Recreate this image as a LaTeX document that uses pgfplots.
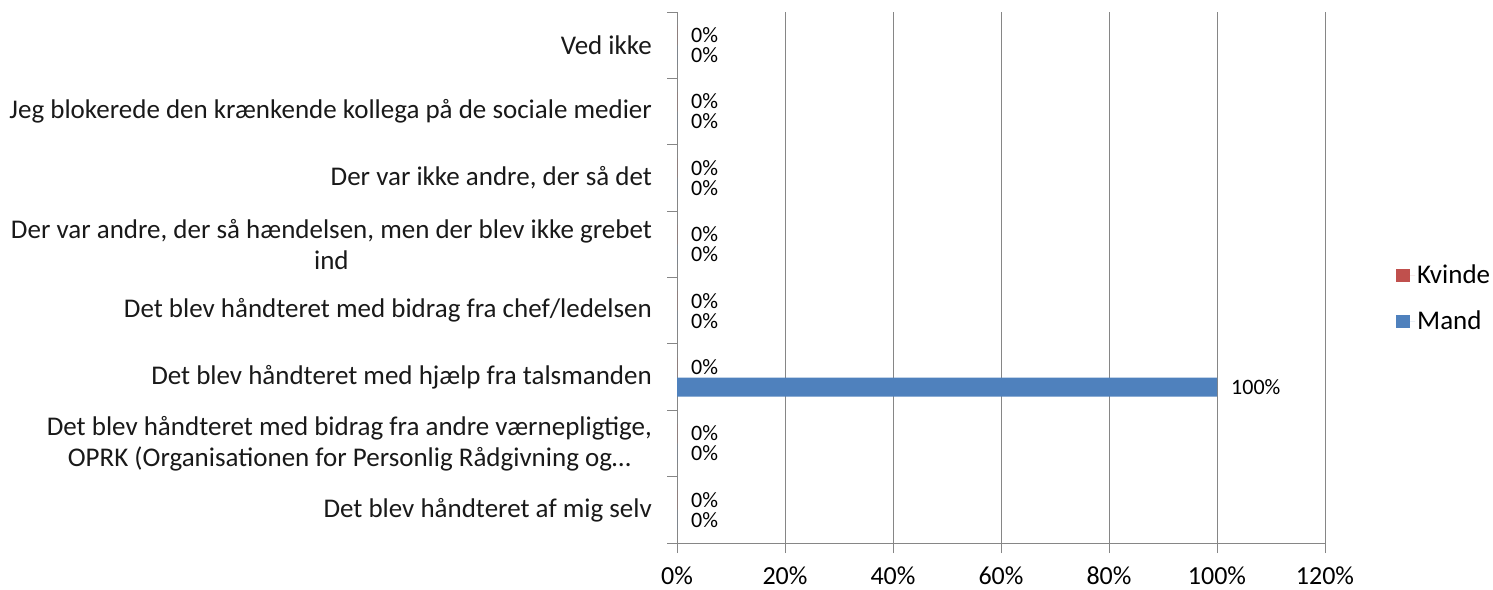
\documentclass[border=0pt]{standalone}
\usepackage{pgfplots}
\pgfplotsset{compat=1.18}
\usepackage{fontspec}
\setmainfont{Carlito}
\definecolor{kv}{RGB}{192,80,77}
\definecolor{md}{RGB}{79,129,189}
\definecolor{gridc}{RGB}{134,134,134}
\begin{document}
\begin{tikzpicture}
\path[use as bounding box] (0,0) rectangle (1493bp,590bp);
\begin{axis}[
 at={(677bp,47bp)}, anchor=south west,
 scale only axis, width=648bp, height=531bp,
 xmin=0, xmax=120, ymin=-0.5, ymax=7.5,
 xbar, bar width=19bp,
 axis x line*=bottom, axis y line*=left,
 axis line style={gridc, line width=0.9bp, -},
 tick align=outside, major tick length=10bp,
 every tick/.style={gridc, line width=0.9bp},
 xtick={0,20,...,120},
 xticklabel={\pgfmathprintnumber{\tick}\%},
 /pgf/number format/assume math mode=true,
 xticklabel style={font=\fontsize{26bp}{31bp}\selectfont, text=black, anchor=north, yshift=-10bp},
 xmajorgrids, major grid style={gridc, line width=0.9bp},
 ytick={-0.5,0.5,1.5,2.5,3.5,4.5,5.5,6.5,7.5},
 yticklabels={,,,,,,,,},
 extra y ticks={0,1,2,3,4,5,6,7},
 extra y tick labels={
  {Det blev håndteret af mig selv},
  {Det blev håndteret med bidrag fra andre værnepligtige,\\OPRK (Organisationen for Personlig Rådgivning og…},
  {Det blev håndteret med hjælp fra talsmanden},
  {Det blev håndteret med bidrag fra chef/ledelsen},
  {Der var andre, der så hændelsen, men der blev ikke grebet\\ind},
  {Der var ikke andre, der så det},
  {Jeg blokerede den krænkende kollega på de sociale medier},
  {Ved ikke}},
 extra y tick style={major tick length=0pt, grid=none,
   yticklabel style={font=\fontsize{27bp}{31bp}\selectfont, align=center, anchor=east, inner sep=0pt, xshift=-25bp, text=black!90}},
 nodes near coords={\pgfmathprintnumber{\pgfplotspointmeta}\%},
 every node near coord/.append style={font=\fontsize{22bp}{24bp}\selectfont, text=black, anchor=west, inner sep=0pt, xshift=14bp},
 legend style={at={(1.105,0.461)}, anchor=west, draw=none, fill=none,
   font=\fontsize{27bp}{32bp}\selectfont, row sep=22bp},
 legend cell align=left,
 legend image code/.code={\fill[#1] (0bp,-6.5bp) rectangle (14bp,6.5bp); \path (0bp,0bp) -- (19bp,0bp);},
 clip=false,
]
\addplot[fill=kv, draw=none, bar shift=10bp] coordinates {(0,0) (0,1) (0,2) (0,3) (0,4) (0,5) (0,6) (0,7)};
\addlegendentry{Kvinde}
\addplot[fill=md, draw=none, bar shift=-10bp] coordinates {(0,0) (0,1) (100,2) (0,3) (0,4) (0,5) (0,6) (0,7)};
\addlegendentry{Mand}
\end{axis}
\end{tikzpicture}
\end{document}
